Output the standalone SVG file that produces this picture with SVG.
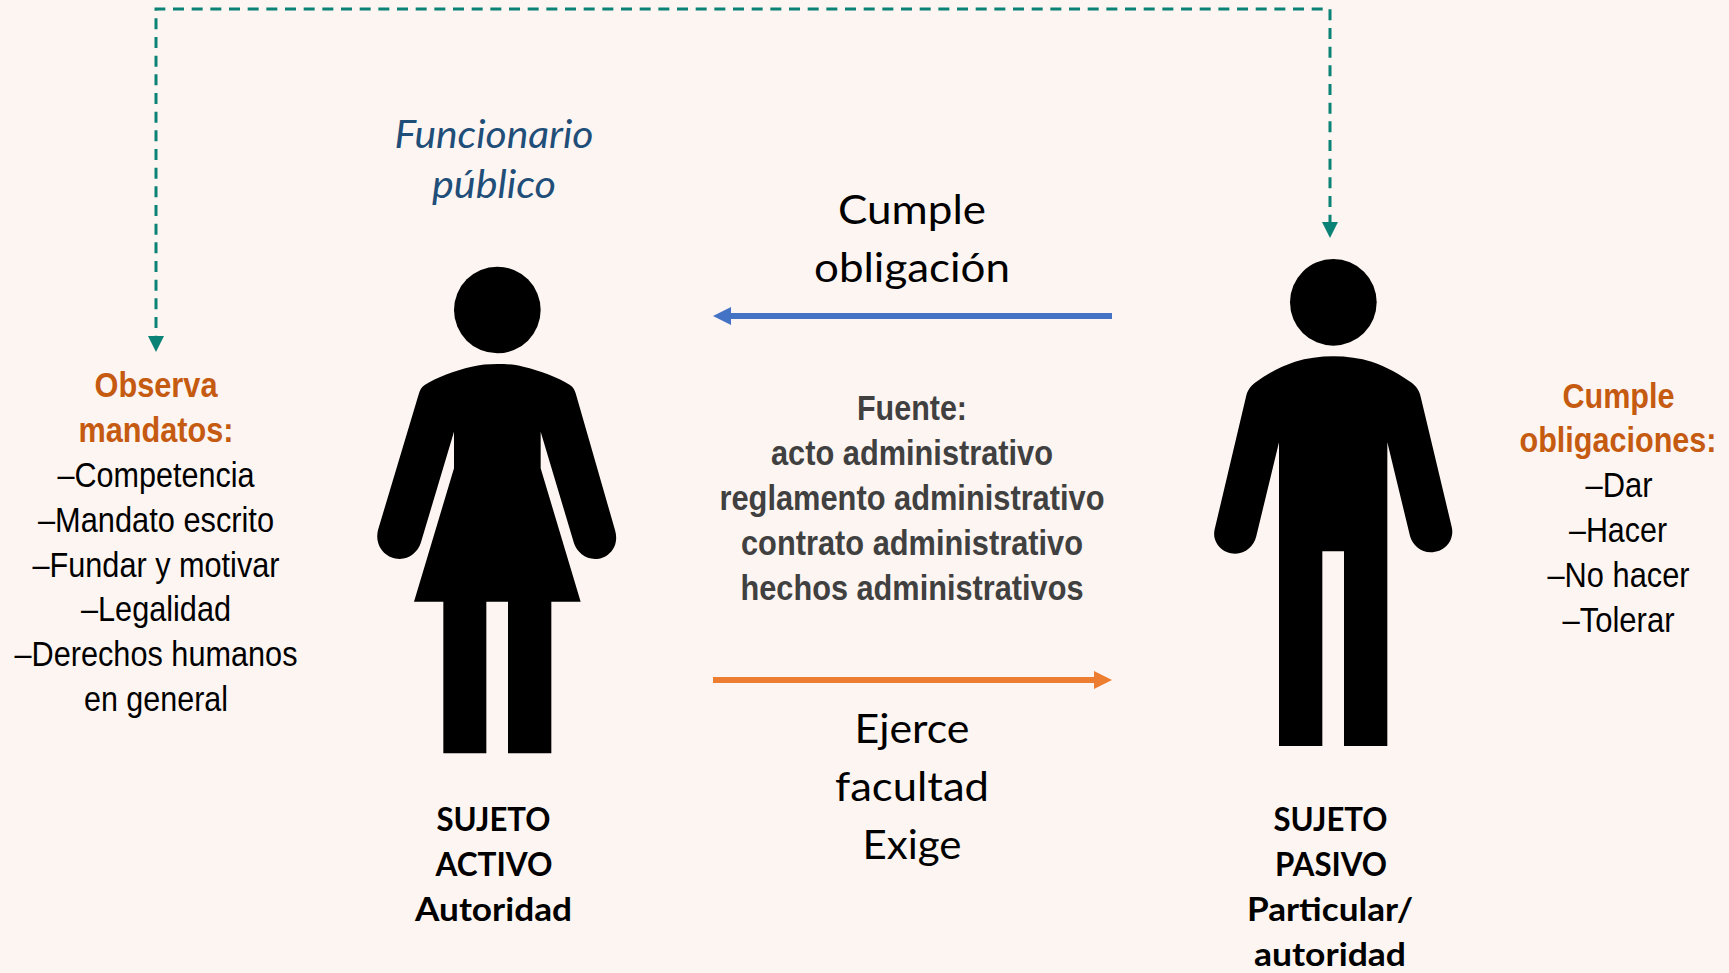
<svg xmlns="http://www.w3.org/2000/svg" width="1729" height="973" viewBox="0 0 1729 973">
<style>
text{text-anchor:middle}
.a{font-family:"Liberation Sans",Arial,sans-serif;font-size:35px;fill:#000}
.ab{font-family:"Liberation Sans",Arial,sans-serif;font-size:34.500px;font-weight:700;fill:#c55a11}
.g{font-family:"Liberation Sans",Arial,sans-serif;font-size:34.500px;font-weight:700;fill:#404040}
.c{font-family:Lato,"Open Sans",sans-serif;font-size:40px;fill:#000}
.b{font-family:Lato,"Open Sans",sans-serif;font-size:33px;font-weight:700;fill:#000}
.i{font-family:Lato,"Open Sans",sans-serif;font-size:38px;font-style:italic;fill:#1f4e79}
.fig{fill:#000}
</style>
<defs>
<marker id="t" markerUnits="userSpaceOnUse" markerWidth="16" markerHeight="16" refX="0" refY="8" orient="auto-start-reverse" viewBox="0 0 16 16"><path d="M0 0L16 8L0 16z" fill="#0b8276"/></marker>
<marker id="bl" markerUnits="userSpaceOnUse" markerWidth="18" markerHeight="18" refX="0" refY="9" orient="auto" viewBox="0 0 18 18"><path d="M0 0L18 9L0 18z" fill="#4472c4"/></marker>
<marker id="or" markerUnits="userSpaceOnUse" markerWidth="18" markerHeight="18" refX="0" refY="9" orient="auto" viewBox="0 0 18 18"><path d="M0 0L18 9L0 18z" fill="#ed7d31"/></marker>
</defs>
<rect width="1729" height="973" fill="#fdf5f1"/>
<g id="connectors" fill="none">
<path d="M156 336V9H1330V222" stroke="#0b8276" stroke-width="3" stroke-dasharray="11 7.667" stroke-dashoffset="10.667" marker-start="url(#t)" marker-end="url(#t)"/>
<path d="M1112 316H731" stroke="#4472c4" stroke-width="6" marker-end="url(#bl)"/>
<path d="M713 680H1094" stroke="#ed7d31" stroke-width="6" marker-end="url(#or)"/>
</g>
<g id="mujer" class="fig" transform="translate(350 250) scale(.33333)">
<circle cx="442" cy="180" r="130"/>
<path d="M442 342C470 342 495 344 520 350C570 362 625 382 660 405C670 412 674 420 677 430L795 840C810 890 775 927 735 927C705 927 680 905 672 880L572 545V655L692 1055H604V1510H474V1055H409V1510H280V1055H192L312 655V545L212 880C204 905 179 927 149 927C109 927 72 890 84 840L207 430C210 420 214 412 224 405C259 382 314 362 365 350C390 344 415 342 442 342Z"/>
</g>
<g id="hombre" class="fig" transform="translate(1190 240) scale(.33333)">
<circle cx="430" cy="187" r="130"/>
<path d="M430 349C470 349 510 355 545 365C590 380 630 403 665 428C680 440 688 452 692 470L785 860C795 900 765 937 722 937C692 937 667 915 660 888L592 607V1518H462V934H397V1518H267V607L199 888C192 918 167 941 136 941C95 941 65 905 74 868L168 470C172 452 180 440 195 428C230 403 270 380 315 365C350 355 390 349 430 349Z"/>
</g>
<g id="funcionario">
<text class="i" x="494" y="148" textLength="199" lengthAdjust="spacingAndGlyphs">Funcionario</text>
<text class="i" x="494" y="198" textLength="124" lengthAdjust="spacingAndGlyphs">público</text>
</g>
<g id="cumple-obligacion">
<text class="c" x="912" y="224" textLength="148" lengthAdjust="spacingAndGlyphs">Cumple</text>
<text class="c" x="912" y="282" textLength="196" lengthAdjust="spacingAndGlyphs">obligación</text>
</g>
<g id="fuente">
<text class="g" x="912" y="420" textLength="110" lengthAdjust="spacingAndGlyphs">Fuente:</text>
<text class="g" x="912" y="465" textLength="282" lengthAdjust="spacingAndGlyphs">acto administrativo</text>
<text class="g" x="912" y="510" textLength="385" lengthAdjust="spacingAndGlyphs">reglamento administrativo</text>
<text class="g" x="912" y="555" textLength="342" lengthAdjust="spacingAndGlyphs">contrato administrativo</text>
<text class="g" x="912" y="599.500" textLength="343" lengthAdjust="spacingAndGlyphs">hechos administrativos</text>
</g>
<g id="ejerce">
<text class="c" x="912" y="743" textLength="115" lengthAdjust="spacingAndGlyphs">Ejerce</text>
<text class="c" x="912" y="801" textLength="154" lengthAdjust="spacingAndGlyphs">facultad</text>
<text class="c" x="912" y="859" textLength="99" lengthAdjust="spacingAndGlyphs">Exige</text>
</g>
<g id="observa">
<text class="ab" x="156" y="397" textLength="123" lengthAdjust="spacingAndGlyphs">Observa</text>
<text class="ab" x="156" y="442" textLength="155" lengthAdjust="spacingAndGlyphs">mandatos:</text>
<text class="a" x="156" y="487" textLength="197" lengthAdjust="spacingAndGlyphs">–Competencia</text>
<text class="a" x="156" y="532" textLength="236" lengthAdjust="spacingAndGlyphs">–Mandato escrito</text>
<text class="a" x="156" y="577" textLength="247" lengthAdjust="spacingAndGlyphs">–Fundar y motivar</text>
<text class="a" x="156" y="621" textLength="150" lengthAdjust="spacingAndGlyphs">–Legalidad</text>
<text class="a" x="156" y="666" textLength="283" lengthAdjust="spacingAndGlyphs">–Derechos humanos</text>
<text class="a" x="156" y="711" textLength="144" lengthAdjust="spacingAndGlyphs">en general</text>
</g>
<g id="cumple-obligaciones">
<text class="ab" x="1618.500" y="408" textLength="112" lengthAdjust="spacingAndGlyphs">Cumple</text>
<text class="ab" transform="translate(1618 452) scale(.9 1)" x="0" y="0" textLength="219" lengthAdjust="spacingAndGlyphs">obligaciones:</text>
<text class="a" x="1619" y="497" textLength="67" lengthAdjust="spacingAndGlyphs">–Dar</text>
<text class="a" x="1618" y="542" textLength="98" lengthAdjust="spacingAndGlyphs">–Hacer</text>
<text class="a" x="1618.500" y="587" textLength="142" lengthAdjust="spacingAndGlyphs">–No hacer</text>
<text class="a" x="1618.500" y="632" textLength="112" lengthAdjust="spacingAndGlyphs">–Tolerar</text>
</g>
<g id="sujeto-activo">
<text class="b" x="493.500" y="831" textLength="114" lengthAdjust="spacingAndGlyphs">SUJETO</text>
<text class="b" x="494" y="876" textLength="117" lengthAdjust="spacingAndGlyphs">ACTIVO</text>
<text class="b" x="493.500" y="921" textLength="157" lengthAdjust="spacingAndGlyphs">Autoridad</text>
</g>
<g id="sujeto-pasivo">
<text class="b" x="1330.500" y="831" textLength="114" lengthAdjust="spacingAndGlyphs">SUJETO</text>
<text class="b" x="1331" y="876" textLength="112" lengthAdjust="spacingAndGlyphs">PASIVO</text>
<text class="b" x="1330" y="921" textLength="166" lengthAdjust="spacingAndGlyphs">Particular/</text>
<text class="b" x="1330" y="966" textLength="152" lengthAdjust="spacingAndGlyphs">autoridad</text>
</g>
</svg>
